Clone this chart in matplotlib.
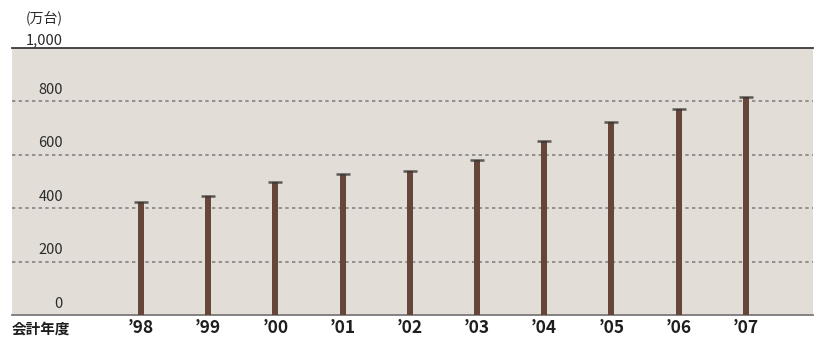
import matplotlib
matplotlib.use("Agg")
import matplotlib.pyplot as plt
import matplotlib.transforms as mtransforms

plt.rcParams['font.family'] = ['Noto Sans CJK JP', 'DejaVu Sans']

years = ["’98", "’99", "’00", "’01", "’02", "’03", "’04", "’05", "’06", "’07"]
values = [422, 446, 499, 527, 538, 581, 649, 720, 769, 815]
yticks = [0, 200, 400, 600, 800]
ytick_labels = ["0", "200", "400", "600", "800"]
unit_label = "(万台)"
top_label = "1,000"
xaxis_label = "会計年度"

W, H = 816, 338
fig = plt.figure(figsize=(W / 100, H / 100), dpi=100)
fig.patch.set_facecolor("white")
left, right, top, bottom = 12, 813, 47.5, 315.3
ax = fig.add_axes([left / W, (H - bottom) / H, (right - left) / W, (bottom - top) / H])
ax.set_facecolor("#e2ddd6")

xs = list(range(len(years)))
ax.set_xlim(-1.92, 10.0)
ax.set_ylim(0, 1000)

for y in yticks[1:]:
    ax.axhline(y, color="#85817c", lw=1.2, ls=(0, (2.0, 2.0)), zorder=1)

ax.bar(xs, values, width=0.09, color="#654639", zorder=3)
ax.hlines(values, [x - 0.105 for x in xs], [x + 0.105 for x in xs],
          color="#3c3835", lw=1.8, zorder=4, alpha=0.8)

for s in ["left", "right"]:
    ax.spines[s].set_visible(False)
ax.spines["top"].set_color("#3a3a3a")
ax.spines["top"].set_linewidth(1.3)
ax.spines["bottom"].set_color("#7a7a7a")
ax.spines["bottom"].set_linewidth(1.3)

ax.set_yticks([])
ax.set_xticks(xs)
ax.set_xticklabels(years, fontsize=12.5, fontweight="bold", color="#1e1e1e")
ax.tick_params(axis="x", length=0, pad=3)

trans = mtransforms.blended_transform_factory(ax.transAxes, ax.transData)
lx = (63 - left) / (right - left)
for y, lab in zip(yticks, ytick_labels):
    ax.text(lx, y + 16, lab, transform=trans, ha="right", va="bottom",
            fontsize=10.5, color="#2a2a2a")

fig.text(63 / W, 1 - 40 / H, top_label, ha="right", va="center", fontsize=10.5, color="#2a2a2a")
fig.text(63 / W, 1 - 18 / H, unit_label, ha="right", va="center", fontsize=10, color="#2a2a2a")
fig.text(12 / W, 1 - 329 / H, xaxis_label, ha="left", va="center", fontsize=10.5,
         fontweight="bold", color="#1e1e1e")

fig.savefig("out.png", dpi=100, facecolor="white")
